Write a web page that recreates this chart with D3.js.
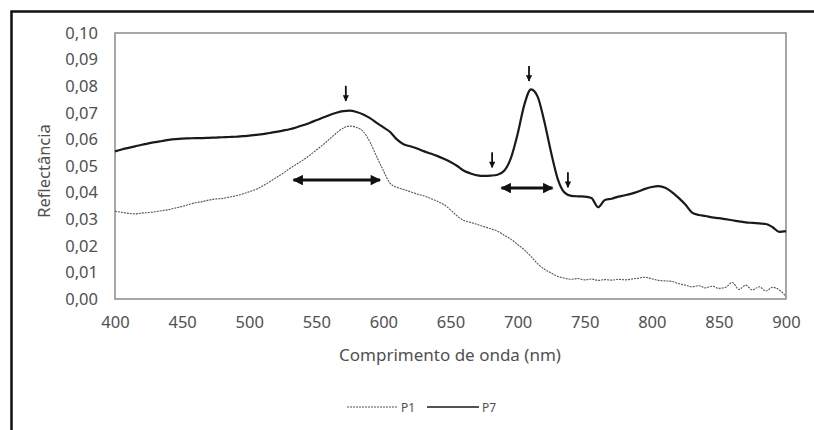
<!DOCTYPE html>
<html>
<head>
<meta charset="utf-8">
<script src="https://cdn.jsdelivr.net/npm/d3@7"></script>
<style>
  body { margin: 0; background: #fff; }
  text { font-family: "Noto Sans", "Open Sans", sans-serif; fill: #505050; }
</style>
</head>
<body>
<script>
// wavelengths 400..900 nm, step 5
const wavelengths = [
  400, 405, 410, 415, 420, 425, 430, 435, 440, 445, 450, 455, 460, 465, 470, 475, 480, 485, 490, 495,
  500, 505, 510, 515, 520, 525, 530, 535, 540, 545, 550, 555, 560, 565, 570, 575, 580, 585, 590, 595,
  600, 605, 610, 615, 620, 625, 630, 635, 640, 645, 650, 655, 660, 665, 670, 675, 680, 685, 690, 695,
  700, 705, 710, 715, 720, 725, 730, 735, 740, 745, 750, 755, 760, 765, 770, 775, 780, 785, 790, 795,
  800, 805, 810, 815, 820, 825, 830, 835, 840, 845, 850, 855, 860, 865, 870, 875, 880, 885, 890, 895,
  900
];

const p1 = [
  .0330, .0326, .0322, .0320, .0323, .0325, .0328, .0332, .0336, .0342, .0348, .0355, .0362, .0366, .0372, .0376, .0378, .0383, .0388, .0395,
  .0403, .0412, .0425, .0440, .0456, .0472, .0490, .0506, .0522, .0540, .0560, .0580, .0602, .0624, .0642, .0650, .0645, .0630, .0590, .0535,
  .0482, .0435, .0420, .0412, .0403, .0395, .0388, .0378, .0368, .0355, .0335, .0312, .0295, .0288, .0280, .0272, .0264, .0255, .0240, .0225,
  .0205, .0185, .0160, .0132, .0112, .0098, .0085, .0078, .0074, .0077, .0072, .0075, .0070, .0073, .0071, .0074, .0072, .0075, .0078, .0082,
  .0076, .0070, .0068, .0066, .0058, .0052, .0046, .0050, .0042, .0048, .0040, .0044, .0062, .0036, .0052, .0034, .0046, .0030, .0044, .0034,
  .0010
];

const p7 = [
  .0555, .0562, .0568, .0574, .0580, .0585, .0590, .0594, .0598, .0601, .0603, .0604, .0605, .0605, .0606, .0607, .0608, .0609, .0610, .0612,
  .0614, .0617, .0620, .0624, .0628, .0633, .0638, .0645, .0653, .0662, .0672, .0682, .0692, .0700, .0706, .0708, .0703, .0694, .0680, .0662,
  .0645, .0628, .0600, .0582, .0574, .0566, .0556, .0547, .0538, .0527, .0515, .0500, .0482, .0472, .0465, .0463, .0464, .0467, .0482, .0530,
  .0620, .0730, .0788, .0760, .0665, .0550, .0450, .0400, .0388, .0386, .0385, .0380, .0345, .0372, .0377, .0385, .0390, .0396, .0404, .0414,
  .0421, .0424, .0418, .0402, .0380, .0355, .0325, .0316, .0312, .0307, .0304, .0300, .0296, .0292, .0288, .0286, .0284, .0282, .0270, .0252,
  .0255
];

const xTicks = [400, 450, 500, 550, 600, 650, 700, 750, 800, 850, 900];
const yTicks = [0, 0.01, 0.02, 0.03, 0.04, 0.05, 0.06, 0.07, 0.08, 0.09, 0.10];

// annotation arrows: [wavelength, value at tip]
const downArrows = [[572, 0.0745], [681, 0.0495], [708.5, 0.082], [737.5, 0.0420]];
const spanArrows = [[533, 597.5, 0.0447], [688, 726, 0.0417]];

const W = 814, H = 430;
const margin = { top: 33, right: 28, bottom: 131, left: 115 };
const width = W - margin.left - margin.right,
  height = H - margin.top - margin.bottom;

const svg = d3.select('body').append('svg')
  .attr('width', W)
  .attr('height', H);

// outer frame (top and left edges only, the rest is cropped)
svg.append('path')
  .attr('d', `M11.5,430 V11.5 H814`)
  .attr('fill', 'none')
  .attr('stroke', '#111')
  .attr('stroke-width', 2.5);

const g = svg.append('g')
  .attr('transform', `translate(${margin.left},${margin.top})`);

const x = d3.scaleLinear().domain([400, 900]).range([0, width]);
const y = d3.scaleLinear().domain([0, 0.10]).range([height, 0]);

// plot box
g.append('rect')
  .attr('width', width)
  .attr('height', height)
  .attr('fill', 'none')
  .attr('stroke', '#8a8a8a')
  .attr('stroke-width', 1.5);

const fmt = d => d3.format('.2f')(d).replace('.', ',');

const xAxis = g.append('g')
  .attr('transform', `translate(0,${height})`)
  .call(d3.axisBottom(x).tickValues(xTicks).tickSize(0).tickPadding(17).tickFormat(d3.format('d')));
const yAxis = g.append('g')
  .call(d3.axisLeft(y).tickValues(yTicks).tickSize(0).tickPadding(17).tickFormat(fmt));
[xAxis, yAxis].forEach(a => {
  a.select('.domain').remove();
  a.selectAll('text').style('font-size', '16.5px').style('fill', '#505050')
    .style('font-family', '"Noto Sans", sans-serif');
});

const line = d3.line()
  .x((d, i) => x(wavelengths[i]))
  .y(d => y(d))
  .curve(d3.curveMonotoneX);

g.append('path')
  .datum(p1)
  .attr('fill', 'none')
  .attr('stroke', '#555')
  .attr('stroke-width', 1.1)
  .attr('stroke-dasharray', '2,1')
  .attr('d', line);

g.append('path')
  .datum(p7)
  .attr('fill', 'none')
  .attr('stroke', '#1a1a1a')
  .attr('stroke-width', 2.2)
  .attr('d', line);

// arrow heads
const defs = svg.append('defs');
defs.append('marker')
  .attr('id', 'head')
  .attr('viewBox', '0 0 10 10')
  .attr('refX', 9).attr('refY', 5)
  .attr('markerWidth', 3.8).attr('markerHeight', 3.5)
  .attr('orient', 'auto-start-reverse')
  .append('path')
  .attr('d', 'M0,0 L10,5 L0,10 z')
  .attr('fill', '#111');

g.selectAll('.down')
  .data(downArrows)
  .enter().append('line')
  .attr('class', 'down')
  .attr('x1', d => x(d[0])).attr('x2', d => x(d[0]))
  .attr('y1', d => y(d[1]) - 15).attr('y2', d => y(d[1]))
  .attr('stroke', '#111')
  .attr('stroke-width', 1.8)
  .attr('marker-end', 'url(#head)');

g.selectAll('.span')
  .data(spanArrows)
  .enter().append('line')
  .attr('class', 'span')
  .attr('x1', d => x(d[0])).attr('x2', d => x(d[1]))
  .attr('y1', d => y(d[2])).attr('y2', d => y(d[2]))
  .attr('stroke', '#111')
  .attr('stroke-width', 3)
  .attr('marker-start', 'url(#head)')
  .attr('marker-end', 'url(#head)');

// axis titles
svg.append('text')
  .attr('x', 450)
  .attr('y', 361)
  .attr('text-anchor', 'middle')
  .style('font-size', '17px')
  .text('Comprimento de onda (nm)');

svg.append('text')
  .attr('transform', 'translate(50,171) rotate(-90)')
  .attr('text-anchor', 'middle')
  .style('font-size', '16.5px')
  .text('Reflectância');

// legend
const legend = svg.append('g').attr('transform', 'translate(0,407)');
legend.append('line')
  .attr('x1', 347).attr('x2', 397).attr('y1', 0).attr('y2', 0)
  .attr('stroke', '#555').attr('stroke-width', 1.1).attr('stroke-dasharray', '2,1');
legend.append('text')
  .attr('x', 401).attr('y', 4.5)
  .style('font-size', '12px')
  .text('P1');
legend.append('line')
  .attr('x1', 427).attr('x2', 479).attr('y1', 0).attr('y2', 0)
  .attr('stroke', '#1a1a1a').attr('stroke-width', 1.5);
legend.append('text')
  .attr('x', 482).attr('y', 4.5)
  .style('font-size', '12px')
  .text('P7');
</script>
</body>
</html>
